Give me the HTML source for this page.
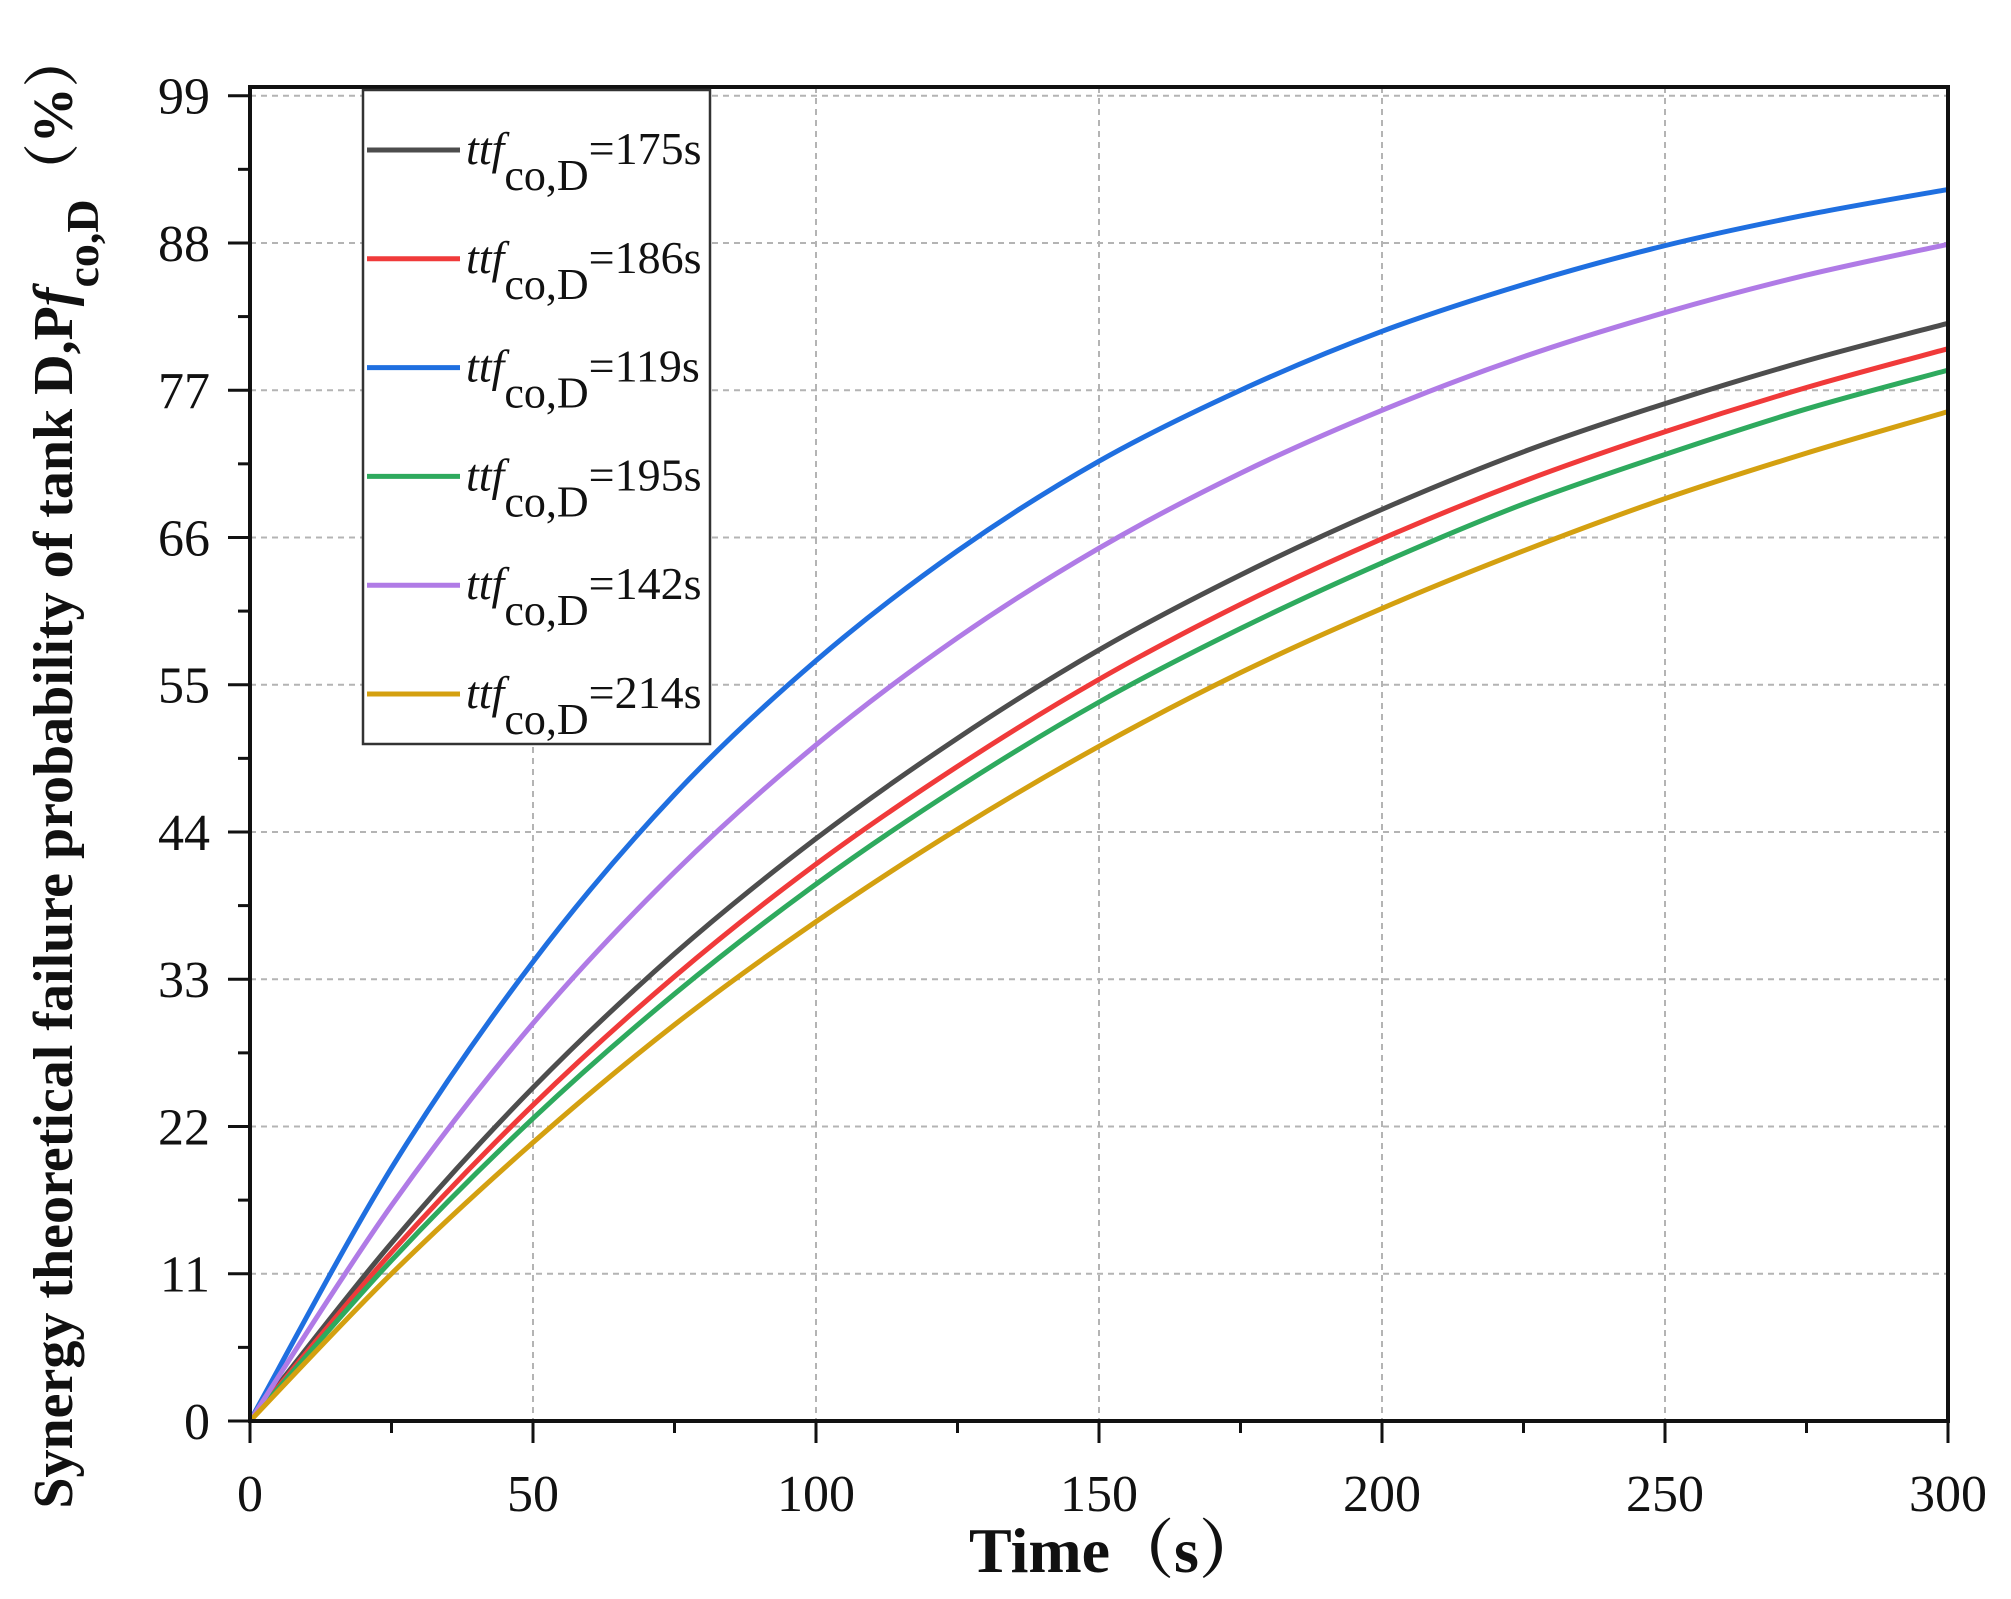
<!DOCTYPE html>
<html><head><meta charset="utf-8"><style>
html,body{margin:0;padding:0;background:#fff;}
svg{display:block;font-family:"Liberation Serif",serif;}
</style></head><body>
<svg id="chart" width="2011" height="1599" viewBox="0 0 2011 1599" xmlns="http://www.w3.org/2000/svg"></svg>
<script>
const times = [0,25,50,75,100,125,150,175,200,225,250,275,300];
const seriesNames = ["175s","186s","119s","195s","142s","214s"];
const seriesColors = ["#4d4d4d","#f03a3a","#1f6fe0","#2eaa5e","#b07be6","#d4a010"];
const s175 = [0,13.3,24.9,34.9,43.5,51.0,57.6,63.2,68.1,72.4,76.0,79.2,82.0];
const s186 = [0,12.6,23.6,33.2,41.6,48.9,55.4,61.0,65.9,70.2,73.9,77.2,80.1];
const s119 = [0,18.9,34.3,46.8,56.8,65.0,71.7,77.0,81.4,84.9,87.8,90.1,92.0];
const s195 = [0,12.0,22.6,31.9,40.1,47.3,53.7,59.2,64.1,68.5,72.2,75.6,78.5];
const s142 = [0,16.1,29.7,41.0,50.5,58.5,65.2,70.8,75.5,79.5,82.8,85.6,87.9];
const s214 = [0,11.0,20.8,29.6,37.3,44.2,50.4,55.9,60.7,65.0,68.9,72.3,75.4];
const xTicks = [0,50,100,150,200,250,300];
const yTicks = [0,11,22,33,44,55,66,77,88,99];

const NS="http://www.w3.org/2000/svg";
const svg=document.getElementById('chart');
const L=250,R=1948,B=1421,T=87;
const X0=0,X1=300,Y0=0,Y1=99.65;
const sx=v=>L+(v-X0)/(X1-X0)*(R-L);
const sy=v=>B-(v-Y0)/(Y1-Y0)*(B-T);
function mk(tag,attrs,parent){const e=document.createElementNS(NS,tag);for(const k in attrs)e.setAttribute(k,attrs[k]);(parent||svg).appendChild(e);return e;}

const grid=mk('g',{});


xTicks.forEach(t=>{if(t>0&&t<300){mk('line',{x1:sx(t),x2:sx(t),y1:T,y2:B,stroke:'#b4b4b4','stroke-width':2,'stroke-dasharray':'6,5'},grid);}});
yTicks.forEach(t=>{if(t>0){mk('line',{x1:L,x2:R,y1:sy(t),y2:sy(t),stroke:'#b4b4b4','stroke-width':2,'stroke-dasharray':'6,5'},grid);}});

function pathFor(vals){
  const p=times.map((t,i)=>[sx(t),sy(vals[i])]);
  let d='M'+p[0][0]+','+p[0][1];
  for(let i=0;i<p.length-1;i++){
    const p0=p[Math.max(0,i-1)],p1=p[i],p2=p[i+1],p3=p[Math.min(p.length-1,i+2)];
    const c1=[p1[0]+(p2[0]-p0[0])/6,p1[1]+(p2[1]-p0[1])/6];
    const c2=[p2[0]-(p3[0]-p1[0])/6,p2[1]-(p3[1]-p1[1])/6];
    d+=' C'+c1[0]+','+c1[1]+' '+c2[0]+','+c2[1]+' '+p2[0]+','+p2[1];
  }
  return d;
}
const allSeries=[s175,s186,s119,s195,s142,s214];
allSeries.forEach((vals,i)=>{
  const pth=mk('path',{d:pathFor(vals),fill:'none',stroke:seriesColors[i],'stroke-width':5});
  
  
});

const frame=mk('rect',{x:L,y:T,width:R-L,height:B-T,fill:'none',stroke:'#111','stroke-width':4});



const xAxis=mk('g',{});


for(let t=0;t<=300;t+=25){
  const major=t%50===0;
  mk('line',{x1:sx(t),x2:sx(t),y1:B,y2:B+(major?22:12),stroke:'#111','stroke-width':3},xAxis);
}
xTicks.forEach(t=>{
  const tx=mk('text',{x:sx(t),y:1511,'font-size':52,'text-anchor':'middle',fill:'#111'},xAxis);
  tx.textContent=t;
  
  
});
const yAxis=mk('g',{});


for(let k=0;k<=18;k++){
  const v=k*5.5,major=k%2===0;
  mk('line',{x1:L,x2:L-(major?22:12),y1:sy(v),y2:sy(v),stroke:'#111','stroke-width':3},yAxis);
}
yTicks.forEach(t=>{
  const tx=mk('text',{x:210,y:sy(t)+18,'font-size':52,'text-anchor':'end',fill:'#111'},yAxis);
  tx.textContent=t;
  
  
});

const xt=mk('text',{x:1116,y:1572,'font-size':64,'font-weight':'bold','text-anchor':'middle',fill:'#111'});


xt.innerHTML='Time（s）';
xt.style.fontFamily='"Liberation Serif","Noto Serif CJK SC",serif';
const yt=mk('text',{x:0,y:0,'font-size':56,'font-weight':'bold','text-anchor':'middle',fill:'#111',transform:'translate(72,770) rotate(-90)'});


yt.style.fontFamily='"Liberation Serif","Noto Serif CJK SC",serif';
yt.innerHTML='Synergy theoretical failure probability of tank D,P<tspan font-style="italic">f</tspan><tspan baseline-shift="sub" font-size="46">co,D</tspan>（%）';

const lg=mk('g',{});


mk('rect',{x:363,y:90,width:347,height:654,fill:'#fff',stroke:'#333','stroke-width':2.5},lg);
seriesNames.forEach((n,i)=>{
  const y=150+i*108.8;
  const e=mk('g',{},lg);
  
  
  mk('line',{x1:367,x2:460,y1:y,y2:y,stroke:seriesColors[i],'stroke-width':5},e);
  const tx=mk('text',{x:466,y:y+14,'font-size':46,fill:'#111'},e);
  tx.innerHTML='<tspan font-style="italic">ttf</tspan><tspan dy="26" font-size="44">co,D</tspan><tspan dy="-26">='+n+'</tspan>';
});
</script>
</body></html>
